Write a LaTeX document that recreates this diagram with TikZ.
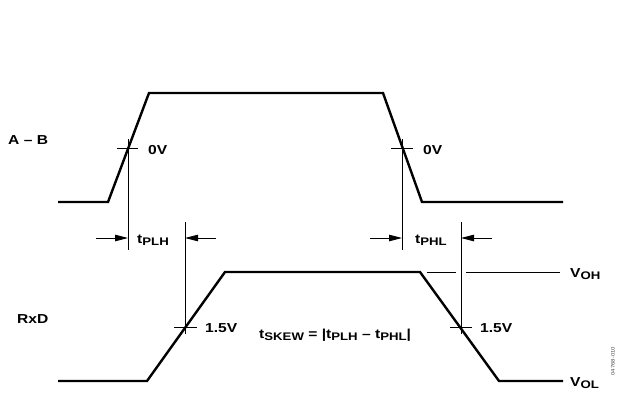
\documentclass[tikz,border=0pt]{standalone}
\usepackage{fontspec}
\setmainfont{Liberation Sans}[FakeStretch=1.2]
\usetikzlibrary{arrows.meta}
\newcommand{\lowsub}[1]{\raisebox{-0.4ex}{\fontsize{11}{11}\selectfont #1}}
\begin{document}
\begin{tikzpicture}[x=1pt,y=-1pt,
  wave/.style={line width=2.4pt, line join=miter, line cap=butt},
  thinline/.style={line width=0.9pt},
  lbl/.style={font=\bfseries\fontsize{13}{15}\selectfont, inner sep=0pt, anchor=base west},
  dimarrow/.style={thinline, -{Triangle[length=13pt,width=6.5pt]}},
  tick/.style={thinline}]
\useasboundingbox (0,0) rectangle (623,394);
% A-B waveform
\coordinate (ab0) at (58,202);
\coordinate (ab1) at (108,202);
\coordinate (ab2) at (149,93);
\coordinate (ab3) at (383,93);
\coordinate (ab4) at (422,202);
\coordinate (ab5) at (563,202);
\draw[wave] (ab0) -- (ab1) -- (ab2) -- (ab3) -- (ab4) -- (ab5);
% RxD waveform
\coordinate (rx0) at (58,381);
\coordinate (rx1) at (147,381);
\coordinate (rx2) at (225,272);
\coordinate (rx3) at (420,272);
\coordinate (rx4) at (499,381);
\coordinate (rx5) at (563,381);
\draw[wave] (rx0) -- (rx1) -- (rx2) -- (rx3) -- (rx4) -- (rx5);
% ticks at crossing points
\draw[tick] (117,148) -- (138,148);
\draw[tick] (391,148) -- (413,148);
\draw[tick] (174,327) -- (197,327);
\draw[tick] (450,327) -- (472,327);
% vertical reference lines
\coordinate (v1t) at (128,139);
\coordinate (v1b) at (128,250);
\coordinate (v2t) at (402,139);
\coordinate (v2b) at (402,250);
\coordinate (v3t) at (185,222);
\coordinate (v3b) at (185,334);
\coordinate (v4t) at (461,222);
\coordinate (v4b) at (461,334);
\draw[thinline] (v1t) -- (v1b);
\draw[thinline] (v2t) -- (v2b);
\draw[thinline] (v3t) -- (v3b);
\draw[thinline] (v4t) -- (v4b);
% dimension arrows
\coordinate (a1s) at (96,238);
\coordinate (a1e) at (128,238);
\coordinate (a2s) at (216,238);
\coordinate (a2e) at (185,238);
\coordinate (a3s) at (370,238);
\coordinate (a3e) at (402,238);
\coordinate (a4s) at (492,238);
\coordinate (a4e) at (461,238);
\draw[dimarrow] (a1s) -- (a1e);
\draw[dimarrow] (a2s) -- (a2e);
\draw[dimarrow] (a3s) -- (a3e);
\draw[dimarrow] (a4s) -- (a4e);
% VOH reference line
\draw[thinline] (427,272) -- (456,272);
\draw[thinline] (466,272) -- (560,272);
% labels
\node[lbl] (lab) at (8,144) {A -- B};
\node[lbl] (lrxd) at (17,323) {RxD};
\node[lbl] (l0a) at (148,154) {0V};
\node[lbl] (l0b) at (423,154) {0V};
\node[lbl] (l15a) at (205,332) {1.5V};
\node[lbl] (l15b) at (480,332) {1.5V};
\node[lbl] (ltplh) at (137,243) {t\lowsub{PLH}};
\node[lbl] (ltphl) at (415,243) {t\lowsub{PHL}};
\node[lbl] (lvoh) at (570,277) {V\lowsub{OH}};
\node[lbl] (lvol) at (570,386) {V\lowsub{OL}};
\node[lbl] (lskew) at (259,338) {t\lowsub{SKEW} = |t\lowsub{PLH} -- t\lowsub{PHL}|};
\node[inner sep=0pt, rotate=90, font=\fontsize{5}{5}\selectfont, text=black!70] (lid) at (613,361) {04768-010};
\end{tikzpicture}
\end{document}
